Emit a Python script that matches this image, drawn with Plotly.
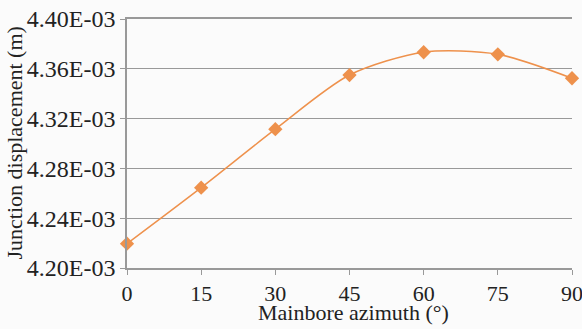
import plotly.graph_objects as go

# Mainbore azimuth (degrees) vs junction displacement (m)
azimuth = [0, 15, 30, 45, 60, 75, 90]
displacement = [4.2195e-3, 4.2645e-3, 4.3115e-3, 4.3550e-3, 4.3733e-3, 4.3716e-3, 4.3524e-3]

x_ticks = [0, 15, 30, 45, 60, 75, 90]
y_ticks = [4.20e-3, 4.24e-3, 4.28e-3, 4.32e-3, 4.36e-3, 4.40e-3]
y_tick_text = [f"{v:.2E}" for v in y_ticks]

orange = "#EE914C"
grey = "#999999"
ink = "#222222"
family = "Liberation Serif"
y_tick_font = dict(family=family, size=24, color=ink)
x_tick_font = dict(family=family, size=22, color=ink)
title_font = dict(family=family, size=22, color=ink)

fig = go.Figure(
    go.Scatter(
        x=azimuth,
        y=displacement,
        mode="lines+markers",
        line=dict(color=orange, width=1.5, shape="spline", smoothing=0.8),
        marker=dict(symbol="diamond", size=11, color=orange),
        cliponaxis=False,
    )
)

fig.update_layout(
    width=582,
    height=329,
    margin=dict(l=127, r=10, t=19, b=61),
    paper_bgcolor="#fbfbfb",
    plot_bgcolor="#fbfbfb",
    font=title_font,
    showlegend=False,
    annotations=[
        # x-axis title
        dict(
            text="Mainbore azimuth (°)",
            xref="paper", yref="paper",
            x=0.5, y=0, xshift=4, yshift=-44,
            xanchor="center", yanchor="middle",
            showarrow=False,
            font=title_font,
        ),
        # y-axis title
        dict(
            text="Junction displacement (m)",
            xref="paper", yref="paper",
            x=0, y=0.5, xshift=-113, yshift=0,
            xanchor="center", yanchor="middle",
            textangle=-90,
            showarrow=False,
            font=title_font,
        ),
    ],
)

fig.update_xaxes(
    range=[0, 90],
    tickvals=x_ticks,
    tickfont=x_tick_font,
    ticklabeloverflow="allow",
    ticks="outside",
    ticklen=5,
    tickcolor=grey,
    showgrid=False,
    showline=True,
    mirror=True,
    linecolor=grey,
    linewidth=1.5,
    zeroline=False,
    automargin=False,
)

fig.update_yaxes(
    range=[4.20e-3, 4.40e-3],
    tickvals=y_ticks,
    ticktext=y_tick_text,
    tickfont=y_tick_font,
    ticklabeloverflow="allow",
    ticks="outside",
    ticklen=5,
    tickcolor=grey,
    showgrid=True,
    gridcolor=grey,
    gridwidth=1.3,
    showline=True,
    linecolor=grey,
    linewidth=1.5,
    zeroline=False,
    automargin=False,
)

fig.write_html("out.html")
